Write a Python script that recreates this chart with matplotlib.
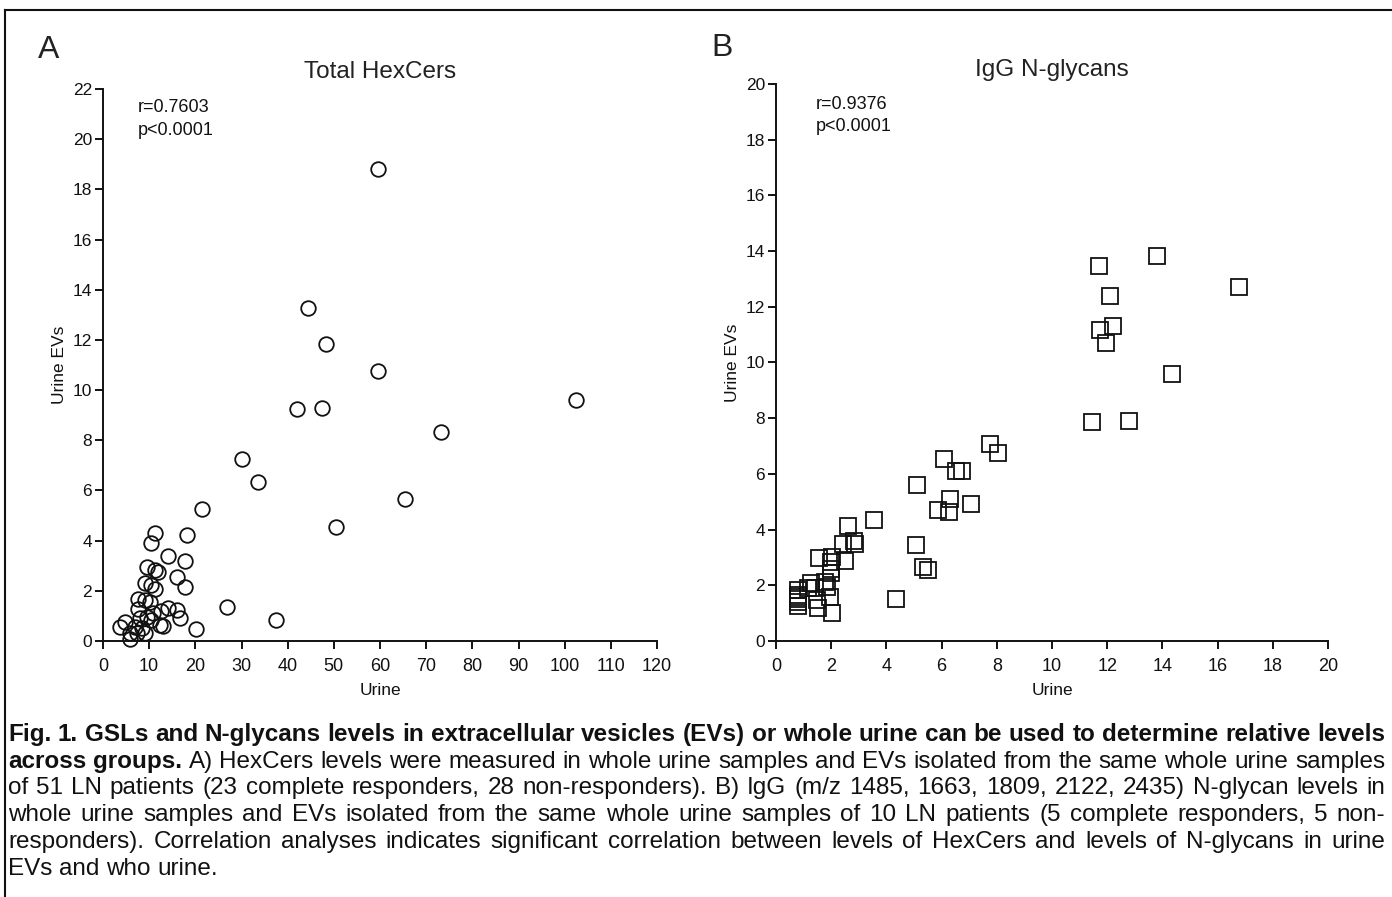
import matplotlib
matplotlib.use("Agg")
import matplotlib.pyplot as plt
from matplotlib.lines import Line2D

plt.rcParams["font.family"] = ["Liberation Sans", "DejaVu Sans"]

# Panel A: Total HexCers (urine vs urine EVs), 51 patients
hex_urine = [59.5, 44.3, 48.4, 59.6, 102.5, 42.1, 47.5, 73.3, 30.0, 33.6, 65.4, 50.5,
             26.8, 37.5, 21.4, 20.1,
             11.3, 18.1, 10.5, 14.1, 17.8, 9.45, 11.3, 12.0, 16.0, 9.1, 10.5, 11.3,
             17.8, 7.65, 9.1, 14.1, 16.0, 7.65, 10.9, 16.7, 10.5, 12.3, 13.1, 4.8,
             3.7, 6.9, 8.4, 7.3, 5.85, 5.85, 9.1, 9.45, 10.2, 12.5, 8.0]
hex_evs = [18.81, 13.28, 11.84, 10.75, 9.6, 9.23, 9.30, 8.32, 7.27, 6.34, 5.66, 4.53,
           1.36, 0.84, 5.26, 0.47,
           4.29, 4.22, 3.92, 3.39, 3.20, 2.96, 2.83, 2.76, 2.54, 2.30, 2.23, 2.06,
           2.16, 1.66, 1.63, 1.30, 1.24, 1.26, 1.10, 0.90, 0.84, 0.64, 0.60, 0.77,
           0.55, 0.57, 0.50, 0.31, 0.31, 0.07, 0.33, 0.97, 1.57, 1.20, 0.90]

# Panel B: IgG N-glycans, 10 patients x 5 glycans
igg_urine = [11.69, 13.82, 16.76, 12.10, 12.2, 11.75, 11.94, 14.34, 11.45, 12.80,
             7.75, 8.04, 6.10, 6.53, 6.75, 5.10, 6.32, 7.08, 5.86, 6.28,
             3.56, 5.06, 5.33, 5.50, 4.36,
             2.60, 2.83, 2.86, 2.42, 2.02, 1.56, 2.0, 2.5, 2.0, 2.0,
             1.27, 1.78, 1.84, 1.41, 0.81, 1.96, 1.47, 0.81, 0.81, 0.81,
             1.53, 2.02, 0.81, 1.17, 0.81]
igg_evs = [13.46, 13.82, 12.71, 12.40, 11.31, 11.17, 10.71, 9.58, 7.85, 7.90,
           7.08, 6.76, 6.55, 6.10, 6.09, 5.61, 5.11, 4.92, 4.69, 4.62,
           4.34, 3.45, 2.67, 2.56, 1.52,
           4.14, 3.60, 3.48, 3.48, 3.03, 2.97, 2.85, 2.87, 2.59, 2.43,
           2.07, 2.13, 1.93, 1.89, 1.83, 1.59, 1.47, 1.59, 1.41, 1.26,
           1.17, 0.99, 1.65, 1.89, 1.50]

hex_xticks = list(range(0, 121, 10))
hex_yticks = list(range(0, 23, 2))
igg_xticks = list(range(0, 21, 2))
igg_yticks = list(range(0, 21, 2))

W, H = 1392, 897
fig = plt.figure(figsize=(W / 100, H / 100), dpi=100)
ink = "#111111"


def style_axes(ax, xticks, yticks):
    for side in ("top", "right"):
        ax.spines[side].set_visible(False)
    for side in ("left", "bottom"):
        ax.spines[side].set_linewidth(1.4)
        ax.spines[side].set_color(ink)
    ax.set_xlim(xticks[0], xticks[-1])
    ax.set_ylim(yticks[0], yticks[-1])
    ax.set_xticks(xticks)
    ax.set_yticks(yticks)
    ax.tick_params(direction="out", length=6, width=1.4, color=ink,
                   labelsize=12.5, labelcolor=ink)
    ax.tick_params(axis="x", pad=6, labelsize=13)
    ax.tick_params(axis="y", pad=2)
    ax.set_xlabel("Urine", fontsize=12.5, color=ink, labelpad=6)
    ax.set_ylabel("Urine EVs", fontsize=12.5, color=ink, labelpad=4)


def stats(ax, x, y_r, y_p, r_txt, p_txt):
    ax.text(x, y_r, r_txt, transform=ax.transAxes, va="center", ha="left",
            fontsize=13, color=ink)
    ax.text(x, y_p, p_txt, transform=ax.transAxes, va="center", ha="left",
            fontsize=13, color=ink)


axA = fig.add_axes([103 / W, 1 - 641 / H, 554 / W, 552 / H])
axA.plot(hex_urine, hex_evs, "o", ms=10.5, mfc="none", mec=ink, mew=1.3, clip_on=False)
style_axes(axA, hex_xticks, hex_yticks)
stats(axA, 0.062, 0.9656, 0.924, "r=0.7603", "p<0.0001")
axA.set_title("Total HexCers", fontsize=17.5, color="#222222", pad=8)

axB = fig.add_axes([776 / W, 1 - 641 / H, 552 / W, 557 / H])
axB.plot(igg_urine, igg_evs, "s", ms=11, mfc="none", mec=ink, mew=1.3, clip_on=False)
style_axes(axB, igg_xticks, igg_yticks)
stats(axB, 0.072, 0.964, 0.923, "r=0.9376", "p<0.0001")
axB.set_title("IgG N-glycans", fontsize=17.5, color="#222222", pad=6)

fig.text(38 / W, 1 - 50 / H, "A", fontsize=23, color="#222222", va="center")
fig.text(711 / W, 1 - 48 / H, "B", fontsize=23, color="#222222", va="center")

# frame: top and left border lines
fig.add_artist(Line2D([5 / W, 1], [1 - 10 / H, 1 - 10 / H], transform=fig.transFigure,
                      color=ink, lw=1.5))
fig.add_artist(Line2D([5 / W, 5 / W], [0, 1 - 10 / H], transform=fig.transFigure,
                      color=ink, lw=1.5))

# caption, justified line by line
caption = [
    ([("Fig. 1. GSLs and N-glycans levels in extracellular vesicles (EVs) or whole urine can be used to determine relative levels", True)], True),
    ([("across groups.", True), ("A) HexCers levels were measured in whole urine samples and EVs isolated from the same whole urine samples", False)], True),
    ([("of 51 LN patients (23 complete responders, 28 non-responders). B) IgG (m/z 1485, 1663, 1809, 2122, 2435) N-glycan levels in", False)], True),
    ([("whole urine samples and EVs isolated from the same whole urine samples of 10 LN patients (5 complete responders, 5 non-", False)], True),
    ([("responders). Correlation analyses indicates significant correlation between levels of HexCers and levels of N-glycans in urine", False)], True),
    ([("EVs and who urine.", False)], False),
]
x_left, x_right = 8, 1385
y0, dy = 741, 26.7

renderer = fig.canvas.get_renderer()
# fit the font so the first (bold) line fills the width with normal spaces
probe = fig.text(0, 0, caption[0][0][0][0], fontsize=10, fontweight="bold")
w10 = probe.get_window_extent(renderer).width
probe.remove()
cap_size = 10 * (x_right - x_left) / w10

probe = fig.text(0, 0, "a a", fontsize=cap_size)
w2 = probe.get_window_extent(renderer).width
probe.set_text("aa")
space_w = w2 - probe.get_window_extent(renderer).width
probe.remove()

for i, (parts, justify) in enumerate(caption):
    y = 1 - (y0 + i * dy) / H
    words = []
    for chunk, bold in parts:
        for w in chunk.split(" "):
            words.append((w, bold))
    texts = []
    for w, bold in words:
        t = fig.text(0, y, w, fontsize=cap_size, color=ink, va="baseline",
                     fontweight="bold" if bold else "normal")
        texts.append((t, t.get_window_extent(renderer).width))
    total = sum(wd for _, wd in texts)
    gap = space_w
    if justify and len(texts) > 1:
        gap = (x_right - x_left - total) / (len(texts) - 1)
    x = x_left
    for t, wd in texts:
        t.set_x(x / W)
        x += wd + gap

fig.savefig("out.png", dpi=100)
